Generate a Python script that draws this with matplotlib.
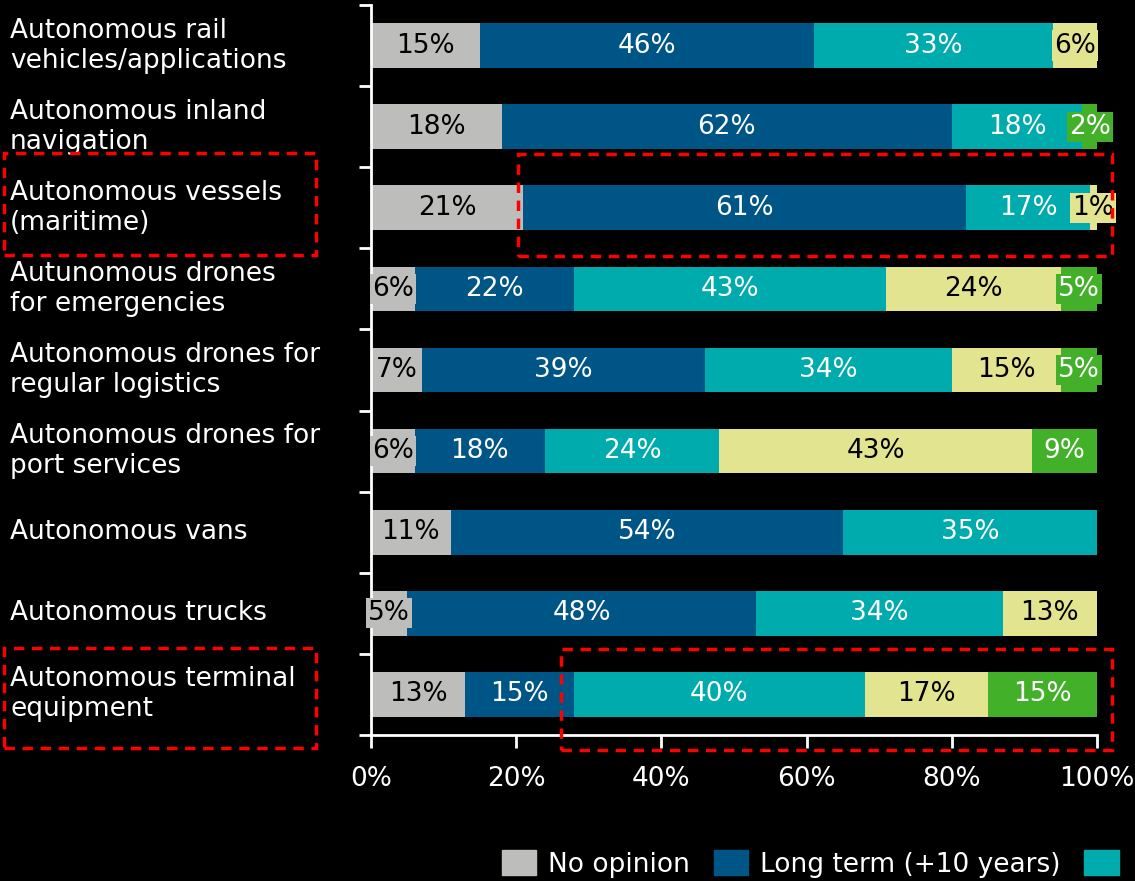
import matplotlib
matplotlib.use("Agg")
import matplotlib.pyplot as plt
import matplotlib.transforms as mtransforms
from matplotlib.patches import Rectangle, Patch

categories = [
    "Autonomous rail\nvehicles/applications",
    "Autonomous inland\nnavigation",
    "Autonomous vessels\n(maritime)",
    "Autunomous drones\nfor emergencies",
    "Autonomous drones for\nregular logistics",
    "Autonomous drones for\nport services",
    "Autonomous vans",
    "Autonomous trucks",
    "Autonomous terminal\nequipment",
]
# only the first two legend names are visible in the chart
legend_names = ["No opinion", "Long term (+10 years)", ""]
no_opinion = [15, 18, 21, 6, 7, 6, 11, 5, 13]
long_term = [46, 62, 61, 22, 39, 18, 54, 48, 15]
medium_term = [33, 18, 17, 43, 34, 24, 35, 34, 40]
short_term = [6, 0, 1, 24, 15, 43, 0, 13, 17]
available = [0, 2, 0, 5, 5, 9, 0, 0, 15]
xticks = [0, 20, 40, 60, 80, 100]

colors = ["#BDBDBB", "#005587", "#00ABAD", "#E3E48F", "#43B02A"]
text_colors = ["black", "white", "white", "black", "white"]
FS = 19

W, H = 1135, 881
fig = plt.figure(figsize=(W / 100, H / 100), dpi=100, facecolor="black")
ax = fig.add_axes([371 / W, 1 - 735 / H, (1097 - 371) / W, 730 / H])
ax.set_facecolor("black")

ypos = list(range(len(categories)))
left = [0] * len(categories)
for vals, col, tcol in zip([no_opinion, long_term, medium_term, short_term, available],
                           colors, text_colors):
    ax.barh(ypos, vals, left=left, height=0.55, color=col, edgecolor="none")
    for y, v, l in zip(ypos, vals, left):
        if v > 0:
            ax.text(l + v / 2, y, f"{v}%", ha="center", va="center", color=tcol,
                    fontsize=FS, bbox=dict(boxstyle="square,pad=0.08", fc=col, ec="none"))
    left = [a + b for a, b in zip(left, vals)]

ax.set_xlim(0, 100)
ax.set_ylim(len(categories) - 0.5, -0.5)
ax.set_xticks(xticks)
ax.set_xticklabels([f"{t}%" for t in xticks])
ax.set_yticks([i - 0.5 for i in range(len(categories) + 1)])
ax.set_yticklabels([])
for s in ["top", "right"]:
    ax.spines[s].set_visible(False)
for s in ["left", "bottom"]:
    ax.spines[s].set_color("white")
    ax.spines[s].set_linewidth(2)
ax.tick_params(axis="both", colors="white", width=2, length=9, labelsize=FS)
ax.tick_params(axis="x", pad=13)

# category labels at the left edge of the figure
trans = mtransforms.blended_transform_factory(fig.transFigure, ax.transData)
for y, lab in zip(ypos, categories):
    ax.text(10 / W, y, lab, transform=trans, ha="left", va="center", color="white",
            fontsize=FS, linespacing=1.2, clip_on=False)

# red dashed highlight boxes (pixel coordinates)
boxes = [(4, 153, 316, 255), (518, 154, 1112, 256),
         (4, 648, 316, 748), (561, 649, 1112, 750)]
for x0, y0, x1, y1 in boxes:
    fig.patches.append(Rectangle((x0 / W, 1 - y1 / H), (x1 - x0) / W, (y1 - y0) / H,
                                 transform=fig.transFigure, fill=False, ec="red",
                                 lw=2.5, ls=(0, (3, 2.2))))

handles = [Patch(color=c) for c in colors[:3]]
fig.legend(handles, legend_names, loc="center left", bbox_to_anchor=(502 / W, 1 - 864 / H),
           ncol=3, frameon=False, fontsize=FS, labelcolor="white", borderpad=0,
           borderaxespad=0, handlelength=1.3, handleheight=1.05, handletextpad=0.45,
           columnspacing=0.9)

fig.savefig("out.png", dpi=100, facecolor="black")
